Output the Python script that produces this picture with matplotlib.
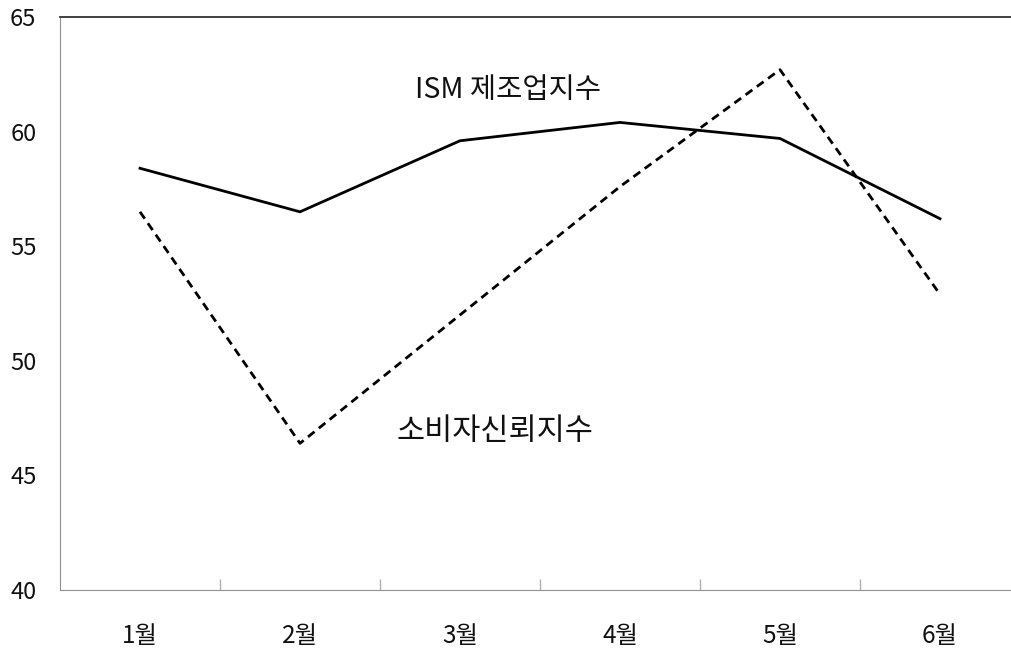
import matplotlib
matplotlib.use("Agg")
import matplotlib.pyplot as plt
from matplotlib.ticker import FixedLocator

plt.rcParams['font.family'] = ['Noto Sans CJK KR', 'DejaVu Sans']

months = ['1월', '2월', '3월', '4월', '5월', '6월']
ism = [58.4, 56.5, 59.6, 60.4, 59.7, 56.2]
consumer = [56.5, 46.4, 52.0, 57.6, 62.7, 52.9]
yticks = [40, 45, 50, 55, 60, 65]

fig = plt.figure(figsize=(10.11, 6.56), dpi=100)
ax = fig.add_axes([60/1011, 66/656, 960/1011, 573/656])

x = list(range(len(months)))
ax.plot(x, ism, color='black', lw=2.0, solid_joinstyle='miter')
ax.plot(x, consumer, color='black', lw=2.0, linestyle=(0, (3.0, 2.0)))

ax.set_xlim(-0.5, len(months) - 0.5)
ax.set_ylim(40, 65)
ax.set_yticks(yticks)
ax.set_yticklabels([str(v) for v in yticks])
ax.set_xticks(x)
ax.set_xticklabels(months)
ax.xaxis.set_minor_locator(FixedLocator([i + 0.5 for i in range(len(months) - 1)]))

ax.tick_params(axis='y', length=0, pad=17, labelsize=17, colors='#111111')
ax.tick_params(axis='x', which='major', length=0, pad=24, labelsize=17.5, colors='#111111')
ax.tick_params(axis='x', which='minor', direction='in', length=8, width=1, color='#b0b0b0')

ax.spines['right'].set_visible(False)
ax.spines['left'].set_color('#909090')
ax.spines['bottom'].set_color('#909090')
ax.spines['top'].set_color('#333333')
ax.spines['top'].set_linewidth(1.3)

ax.text(2.30, 61.8, 'ISM 제조업지수', fontsize=20.5, ha='center', va='center', color='#111111')
ax.text(2.22, 46.9, '소비자신뢰지수', fontsize=22, ha='center', va='center', color='#111111')

fig.savefig('out.png', dpi=100)
